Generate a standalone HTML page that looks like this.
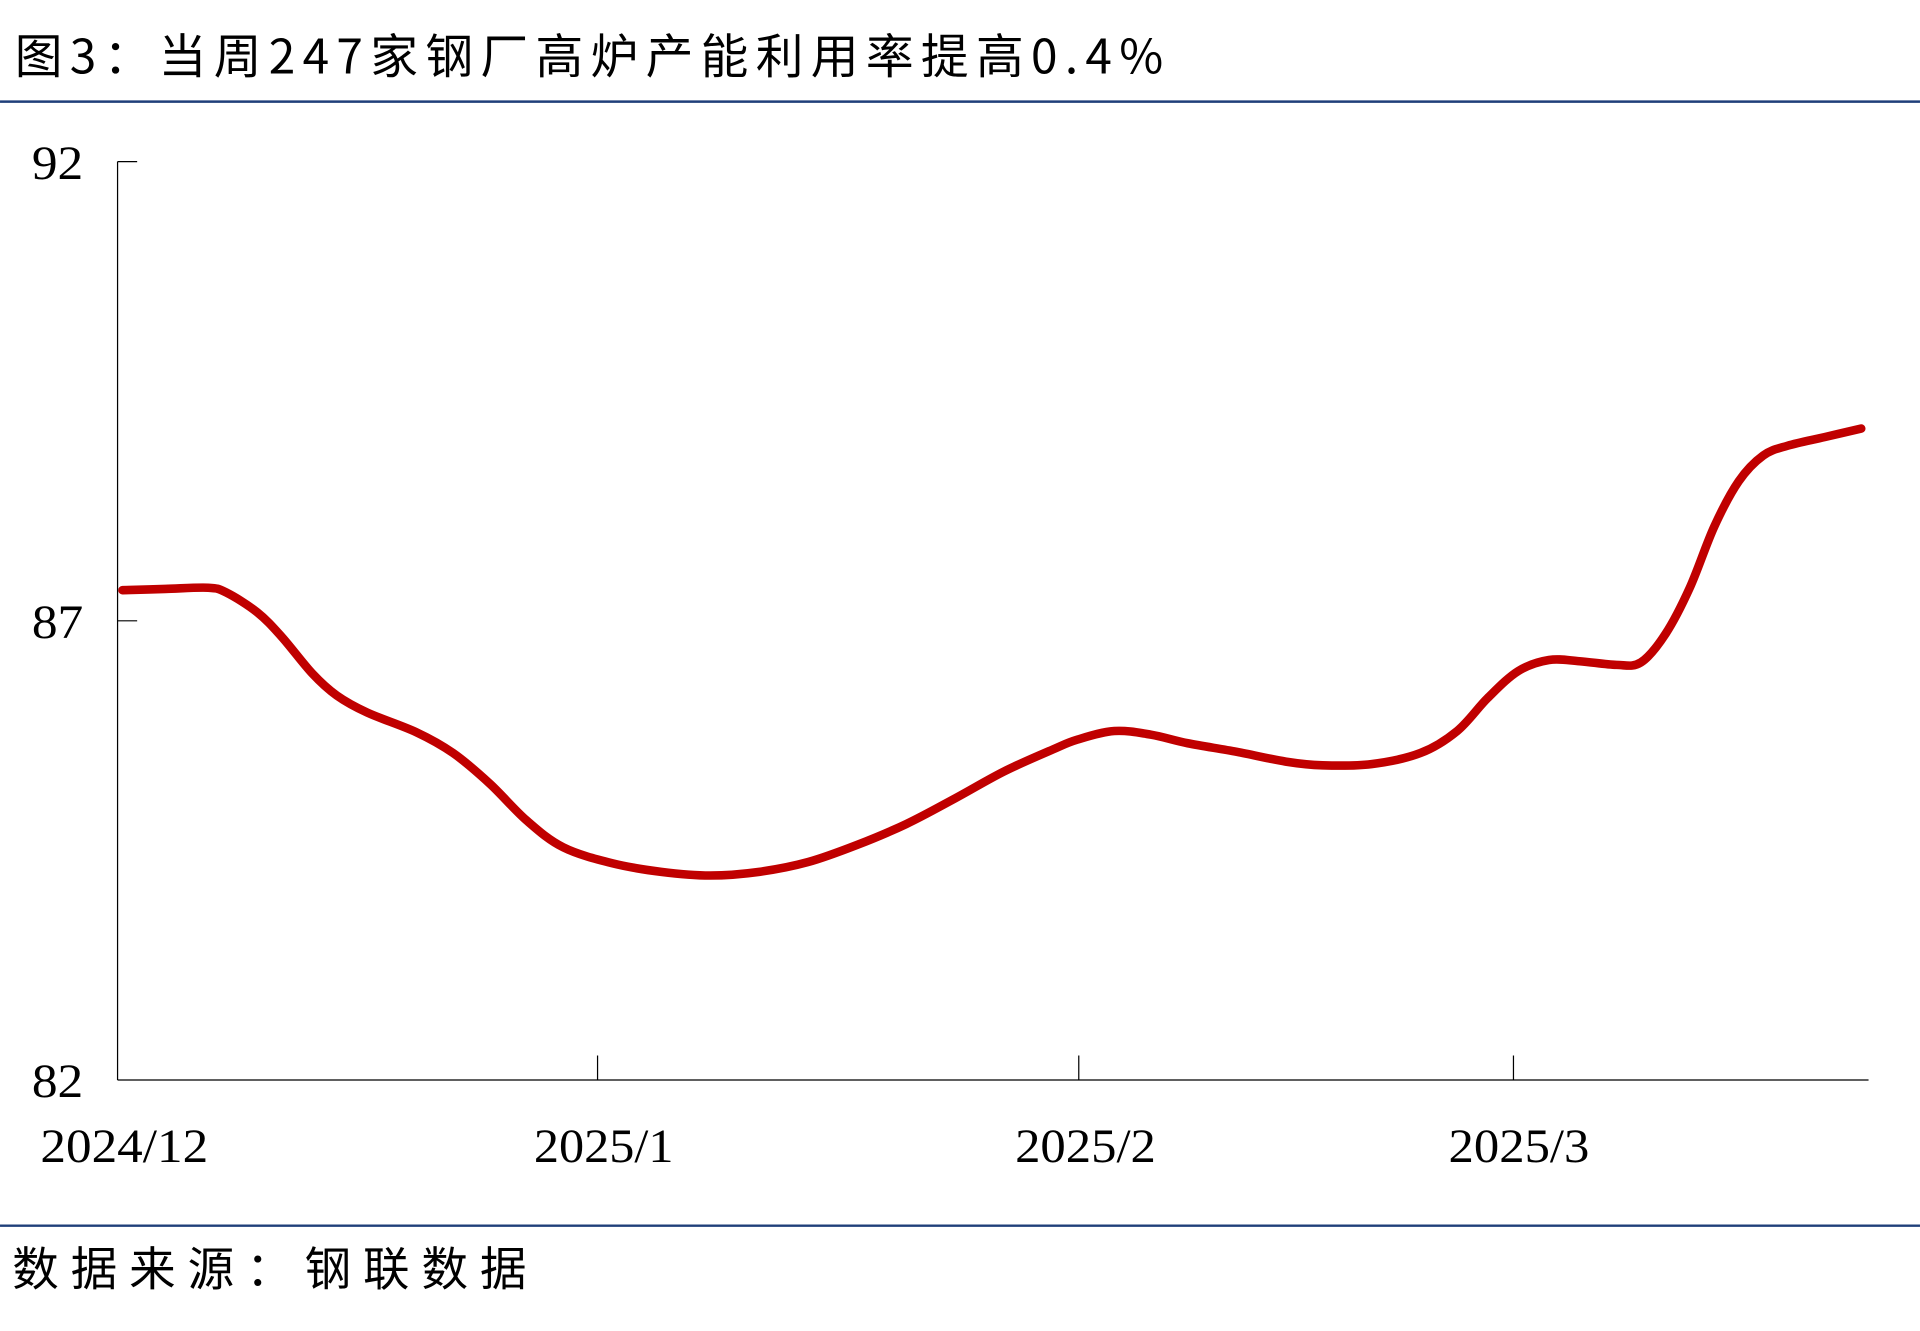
<!DOCTYPE html>
<html><head><meta charset="utf-8"><style>html,body{margin:0;padding:0;background:#fff}svg{display:block}</style></head>
<body>
<svg width="1920" height="1331" viewBox="0 0 1568 1087" xmlns="http://www.w3.org/2000/svg">
<rect width="1568" height="1087" fill="#fff"/>
<text x="12" y="60" font-family="'Noto Sans CJK SC','WenQuanYi Zen Hei',sans-serif" font-size="39" fill="#000" textLength="938" lengthAdjust="spacing">图3：当周247家钢厂高炉产能利用率提高0.4%</text>
<line x1="0" y1="83" x2="1568" y2="83" stroke="#1f3f7a" stroke-width="2"/>
<g stroke="#000" stroke-width="1" fill="none">
<line x1="96" y1="132" x2="96" y2="882"/>
<line x1="96" y1="882" x2="1526" y2="882"/>
<line x1="96" y1="132" x2="112" y2="132"/>
<line x1="96" y1="507" x2="112" y2="507"/>
<line x1="488" y1="862" x2="488" y2="882"/>
<line x1="881" y1="862" x2="881" y2="882"/>
<line x1="1236" y1="862" x2="1236" y2="882"/>
</g>
<g font-family="'Liberation Serif',serif" font-size="39" fill="#000" lengthAdjust="spacingAndGlyphs">
<text x="26" y="146" textLength="42" lengthAdjust="spacingAndGlyphs">92</text>
<text x="26" y="521" textLength="42" lengthAdjust="spacingAndGlyphs">87</text>
<text x="26" y="896" textLength="42" lengthAdjust="spacingAndGlyphs">82</text>
<text x="33" y="949" textLength="137" lengthAdjust="spacingAndGlyphs">2024/12</text>
<text x="436" y="949" textLength="114" lengthAdjust="spacingAndGlyphs">2025/1</text>
<text x="829" y="949" textLength="115" lengthAdjust="spacingAndGlyphs">2025/2</text>
<text x="1183" y="949" textLength="115" lengthAdjust="spacingAndGlyphs">2025/3</text>
</g>
<path id="curve" fill="none" stroke="#c00000" stroke-width="7" stroke-linejoin="round" stroke-linecap="round" d=""/>
<line x1="0" y1="1001" x2="1568" y2="1001" stroke="#1f3f7a" stroke-width="2"/>
<text x="10" y="1050" font-family="'Noto Sans CJK SC','WenQuanYi Zen Hei',sans-serif" font-size="38" fill="#000" textLength="420" lengthAdjust="spacing">数据来源：钢联数据</text>
</svg>
<script>
var p=[[100,482],[135,481],[170,480],[185,484],[210,500],[230,520],[255,550],[275,568],[300,582],[340,598],[370,615],[400,640],[430,670],[460,692],[500,705],[540,712],[580,715],[620,712],[660,704],[700,690],[740,673],[780,652],[820,630],[860,612],[880,604],[910,597],[940,600],[970,607],[1010,614],[1050,622],[1080,625],[1120,624],[1160,615],[1190,597],[1215,570],[1240,548],[1265,539],[1290,540],[1320,543],[1340,541],[1360,518],[1380,480],[1400,430],[1420,393],[1440,372],[1460,364],[1490,357],[1520,350]];
var d="M"+p[0][0]+","+p[0][1];
for(var i=0;i<p.length-1;i++){var a=p[i-1]||p[i],b=p[i],c=p[i+1],e=p[i+2]||c;
d+=" C"+(b[0]+(c[0]-a[0])/6)+","+(b[1]+(c[1]-a[1])/6)+" "+(c[0]-(e[0]-b[0])/6)+","+(c[1]-(e[1]-b[1])/6)+" "+c[0]+","+c[1];}
document.getElementById("curve").setAttribute("d",d);
</script>
</body></html>
